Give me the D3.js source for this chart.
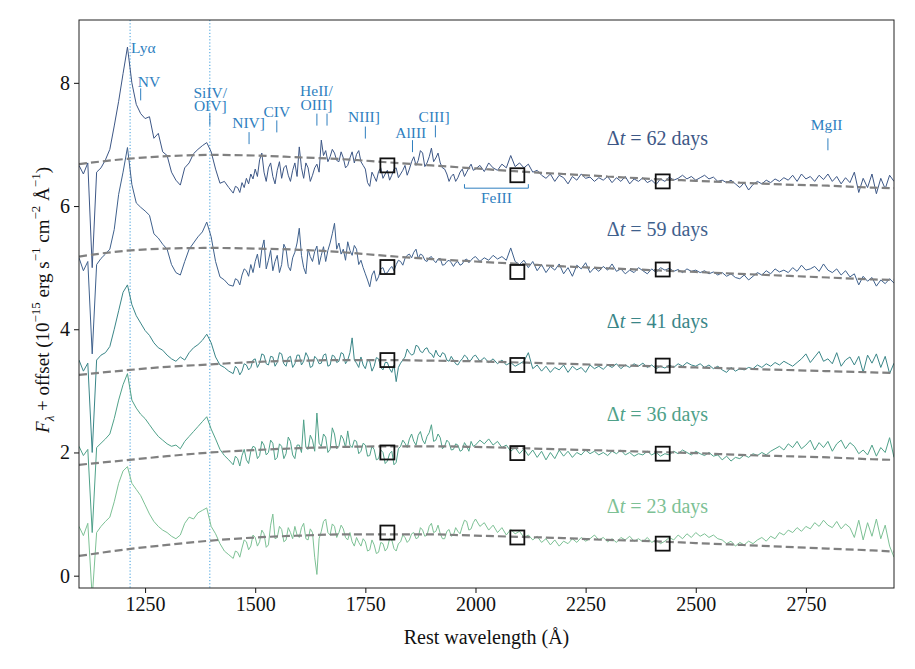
<!DOCTYPE html>
<html>
    <head>
        <title>UV spectra</title>
        <meta charset="UTF-8" />
        <script src="https://cdn.jsdelivr.net/npm/d3@7/dist/d3.min.js"></script>
        <style>
            body { margin: 0; background: #fff; }
            svg text { font-family: "Liberation Serif", "Times New Roman", serif; }
        </style>
    </head>
    <body>
        <svg id="chart" width="915" height="669"></svg>
        <script>
            // rest wavelength grid of the spectra (Angstrom); finer where the spectra are noisiest
            var wave = [
                1100,1110,1120,1130,1140,1150,1160,1170,1180,1190,
                1200,1210,1220,1230,1240,1250,1260,1270,1280,1290,
                1300,1310,1320,1330,1340,1350,1360,1370,1380,1390,
                1400,1410,1420,1430,1440,
                1450,1455,1460,1465,1470,1475,1480,1485,1490,1495,
                1500,1505,1510,1515,1520,1525,1530,1535,1540,1545,
                1550,1555,1560,1565,1570,1575,1580,1585,1590,1595,
                1600,1605,1610,1615,1620,1625,1630,1635,1640,1645,
                1650,1655,1660,1665,1670,1675,1680,1685,1690,1695,
                1700,1705,1710,1715,1720,1725,1730,1735,1740,1745,
                1750,1755,1760,1765,1770,1775,1780,1785,1790,1795,
                1800,1805,1810,1815,1820,1825,1830,1835,1840,1845,
                1850,1855,1860,1865,1870,1875,1880,1885,1890,1895,
                1900,1905,1910,1915,1920,1925,1930,1935,1940,1945,
                1950,1955,1960,1965,1970,1975,1980,1985,1990,1995,
                2000,2010,2020,2030,2040,2050,2060,2070,2080,2090,
                2100,2110,2120,2130,2140,2150,2160,2170,2180,2190,
                2200,2210,2220,2230,2240,2250,2260,2270,2280,2290,
                2300,2310,2320,2330,2340,2350,2360,2370,2380,2390,
                2400,2410,2420,2430,2440,2450,2460,2470,2480,2490,
                2500,2510,2520,2530,2540,2550,2560,2570,2580,2590,
                2600,2610,2620,2630,2640,2650,2660,2670,2680,2690,
                2700,2710,2720,2730,2740,2750,2760,2770,2780,2790,
                2800,2810,2820,2830,2840,2850,2860,2870,2880,2890,
                2900,2910,2920,2930,2940,2950
            ]

            var flux62 = [
                6.66,6.52,6.70,5.00,6.55,6.62,6.75,6.92,7.30,7.70,
                8.15,8.58,8.00,7.65,7.50,7.42,7.45,7.10,7.18,6.88,
                6.82,6.55,6.42,6.34,6.62,6.70,6.85,6.92,6.98,7.03,
                6.88,6.60,6.37,6.40,6.30,
                6.21,6.32,6.30,6.22,6.38,6.30,6.45,6.36,6.52,6.44,
                6.60,6.48,6.75,6.86,6.55,6.40,6.62,6.70,6.48,6.36,
                6.58,6.72,6.45,6.62,6.66,6.50,6.40,6.58,6.70,6.48,
                6.96,6.62,6.45,6.70,6.62,6.40,6.50,6.62,6.68,6.55,
                7.07,6.82,6.90,6.72,6.80,6.92,6.86,6.74,6.72,6.88,
                6.78,6.62,6.66,6.78,6.88,6.70,6.84,6.90,6.72,6.66,
                6.60,6.38,6.32,6.55,6.48,6.40,6.56,6.62,6.45,6.52,
                6.58,6.42,6.50,6.60,6.62,6.46,6.52,6.58,6.66,6.50,
                6.60,6.72,6.80,6.66,6.74,6.90,6.86,6.64,6.70,6.80,
                6.94,6.72,6.78,6.86,6.70,6.62,6.60,6.52,6.40,6.48,
                6.52,6.40,6.46,6.55,6.60,6.48,6.55,6.62,6.68,6.58,
                6.60,6.66,6.56,6.70,6.62,6.58,6.68,6.62,6.82,6.64,
                6.70,6.62,6.68,6.55,6.58,6.50,6.45,6.52,6.40,6.50,
                6.46,6.36,6.48,6.42,6.52,6.45,6.47,6.40,6.46,6.42,
                6.48,6.38,6.46,6.40,6.48,6.36,6.44,6.40,6.46,6.38,
                6.42,6.35,6.44,6.40,6.47,6.42,6.45,6.50,6.44,6.48,
                6.42,6.46,6.50,6.44,6.47,6.40,6.42,6.38,6.42,6.36,
                6.30,6.38,6.26,6.35,6.40,6.36,6.42,6.38,6.44,6.40,
                6.46,6.42,6.50,6.40,6.52,6.44,6.48,6.40,6.50,6.43,
                6.52,6.40,6.48,6.36,6.46,6.38,6.55,6.22,6.45,6.30,
                6.52,6.20,6.45,6.28,6.50,6.40
            ]

            var flux59 = [
                5.16,4.95,5.10,3.60,5.05,5.15,5.22,5.30,5.62,6.19,
                6.55,6.95,6.35,6.05,5.98,5.92,5.85,5.55,5.48,5.38,
                5.30,5.05,4.92,4.88,5.10,5.30,5.40,5.50,5.58,5.74,
                5.50,5.10,4.85,4.80,4.72,
                4.70,4.82,4.80,4.72,4.88,4.98,4.95,4.86,5.05,4.92,
                5.10,5.22,5.00,5.30,5.45,4.98,5.12,5.28,4.95,5.10,
                5.20,4.92,5.05,5.38,5.30,5.02,4.95,5.16,5.25,5.40,
                5.64,5.20,5.00,4.90,5.30,5.18,5.10,5.26,5.35,5.05,
                5.20,5.34,5.10,5.28,5.40,5.55,5.72,5.30,5.40,5.22,
                5.30,5.12,5.42,5.28,5.20,5.36,5.30,5.05,5.12,5.00,
                4.90,4.80,4.69,4.88,4.95,4.78,4.85,4.98,5.00,4.90,
                4.92,4.98,5.02,4.95,5.05,5.12,5.10,5.04,5.15,5.20,
                5.22,5.16,5.25,5.30,5.15,5.22,5.20,5.12,5.10,5.16,
                5.18,5.12,5.08,5.14,5.15,5.04,5.05,5.10,5.12,5.08,
                5.02,5.08,5.10,5.04,5.06,5.12,5.14,5.08,5.12,5.16,
                5.18,5.10,5.16,5.12,5.20,5.14,5.18,5.12,5.32,5.10,
                5.05,5.12,5.00,5.10,4.95,5.05,4.92,5.02,4.96,5.06,
                4.90,5.00,4.86,5.04,4.98,5.08,4.92,5.00,4.94,5.02,
                4.96,5.06,4.94,4.98,4.90,4.96,4.92,5.00,4.95,4.90,
                4.98,4.92,5.00,4.96,4.99,4.94,4.97,4.92,4.98,4.94,
                4.96,4.92,4.95,4.90,4.93,4.88,4.92,4.86,4.90,4.84,
                4.82,4.88,4.80,4.86,4.92,4.88,4.95,4.90,4.98,4.93,
                4.96,4.92,5.00,4.94,5.04,4.96,4.98,5.02,4.94,5.06,
                4.96,4.92,4.98,4.88,4.95,4.85,4.90,4.72,4.86,4.78,
                4.84,4.70,4.80,4.74,4.82,4.75
            ]

            var flux41 = [
                3.50,3.32,3.45,2.00,3.50,3.58,3.62,3.72,4.00,4.30,
                4.60,4.72,4.40,4.22,4.10,3.98,3.90,3.78,3.70,3.66,
                3.58,3.52,3.48,3.55,3.50,3.62,3.70,3.75,3.82,3.92,
                3.78,3.55,3.42,3.38,3.32,
                3.28,3.40,3.36,3.26,3.32,3.44,3.42,3.34,3.38,3.50,
                3.52,3.38,3.45,3.60,3.58,3.44,3.42,3.56,3.55,3.40,
                3.46,3.62,3.60,3.44,3.40,3.54,3.56,3.38,3.44,3.58,
                3.58,3.42,3.48,3.62,3.55,3.38,3.40,3.56,3.52,3.44,
                3.45,3.58,3.60,3.40,3.42,3.58,3.56,3.46,3.48,3.62,
                3.60,3.44,3.50,3.62,3.86,3.50,3.45,3.38,3.55,3.42,
                3.36,3.50,3.48,3.32,3.40,3.54,3.52,3.38,3.34,3.46,
                3.46,3.36,3.30,3.42,3.15,3.38,3.45,3.50,3.55,3.68,
                3.62,3.58,3.60,3.74,3.72,3.64,3.62,3.68,3.70,3.62,
                3.60,3.54,3.66,3.58,3.55,3.62,3.60,3.50,3.48,3.56,
                3.50,3.44,3.42,3.48,3.52,3.58,3.55,3.48,3.50,3.56,
                3.58,3.48,3.54,3.46,3.52,3.44,3.50,3.42,3.46,3.40,
                3.44,3.48,3.62,3.36,3.42,3.32,3.40,3.30,3.38,3.34,
                3.42,3.30,3.40,3.34,3.38,3.30,3.42,3.36,3.40,3.35,
                3.42,3.38,3.44,3.36,3.42,3.38,3.44,3.40,3.45,3.38,
                3.42,3.36,3.40,3.37,3.42,3.38,3.44,3.40,3.46,3.42,
                3.40,3.44,3.38,3.42,3.36,3.40,3.34,3.30,3.38,3.32,
                3.36,3.34,3.38,3.36,3.42,3.38,3.44,3.40,3.46,3.42,
                3.48,3.44,3.40,3.46,3.52,3.60,3.46,3.55,3.64,3.48,
                3.52,3.44,3.62,3.40,3.50,3.55,3.42,3.56,3.30,3.58,
                3.45,3.60,3.38,3.56,3.28,3.45
            ]

            var flux36 = [
                2.10,1.95,2.05,0.70,2.08,2.15,2.22,2.30,2.55,2.85,
                3.10,3.28,2.85,2.72,2.62,2.55,2.45,2.35,2.26,2.20,
                2.14,2.10,2.12,2.06,2.18,2.26,2.34,2.42,2.50,2.58,
                2.38,2.22,2.05,1.95,1.88,
                1.80,1.94,1.90,1.78,1.95,2.05,1.88,1.82,2.02,2.10,
                2.08,1.90,1.95,2.18,2.12,1.96,2.00,2.20,2.15,1.88,
                1.92,2.14,2.10,1.90,1.98,2.25,2.18,1.96,1.90,2.12,
                2.12,2.00,2.53,2.08,2.05,2.28,2.20,2.02,2.64,2.15,
                2.10,2.30,2.25,2.00,2.05,2.40,2.30,2.06,2.10,2.28,
                2.22,2.08,2.35,2.12,2.08,2.20,2.18,1.98,2.02,2.15,
                2.12,1.94,1.95,2.10,2.05,1.88,1.90,2.04,2.00,1.82,
                1.86,1.98,2.02,1.80,1.84,2.06,2.10,2.20,2.15,2.08,
                2.22,2.30,2.18,2.12,2.28,2.34,2.20,2.14,2.26,2.32,
                2.45,2.18,2.20,2.30,2.24,2.06,2.10,2.20,2.16,2.04,
                2.05,2.14,2.12,2.02,2.04,2.16,2.10,2.02,2.18,2.10,
                2.12,2.20,2.14,2.22,2.12,2.18,2.08,2.12,2.02,2.08,
                1.98,2.06,1.95,2.04,1.92,2.02,1.88,2.00,1.90,2.04,
                1.94,2.02,1.92,2.00,1.96,2.04,1.98,2.02,1.96,2.00,
                1.95,2.02,1.98,2.04,1.96,2.00,1.94,1.98,1.96,2.02,
                1.96,2.00,1.94,1.98,1.96,2.02,1.98,2.04,2.00,1.96,
                2.02,1.98,1.95,2.00,1.94,1.96,1.88,1.94,1.86,1.92,
                1.90,1.96,1.92,1.98,1.95,2.00,1.96,2.02,2.06,2.10,
                2.04,2.14,2.08,2.18,2.06,2.12,2.20,2.04,2.16,2.08,
                2.18,2.02,2.14,2.20,2.06,2.16,2.10,1.98,2.04,1.96,
                2.12,1.94,2.08,2.00,2.24,1.92
            ]

            var flux23 = [
                0.80,0.65,0.85,-0.35,0.70,0.80,0.88,0.95,1.20,1.50,
                1.70,1.77,1.50,1.40,1.30,1.15,1.00,0.88,0.80,0.74,
                0.70,0.64,0.60,0.66,0.85,0.95,0.92,1.02,1.06,1.10,
                0.80,0.68,0.52,0.40,0.34,
                0.28,0.40,0.38,0.30,0.45,0.58,0.55,0.42,0.48,0.66,
                0.62,0.48,0.55,0.74,0.68,0.46,0.50,0.82,1.00,0.60,
                0.62,0.80,0.75,0.55,0.58,0.78,0.70,0.60,0.80,0.66,
                0.62,0.78,0.85,0.60,0.58,0.76,0.70,0.30,0.02,0.60,
                0.72,0.88,0.92,0.70,0.66,0.84,0.80,0.62,0.70,0.82,
                0.76,0.62,0.58,0.70,0.55,0.48,0.62,0.54,0.48,0.60,
                0.55,0.40,0.42,0.58,0.50,0.36,0.38,0.54,0.52,0.40,
                0.45,0.60,0.58,0.44,0.40,0.52,0.55,0.66,0.62,0.54,
                0.58,0.68,0.70,0.60,0.62,0.78,0.74,0.64,0.66,0.80,
                0.85,0.70,0.72,0.82,0.68,0.60,0.60,0.72,0.75,0.64,
                0.66,0.78,0.72,0.68,0.80,0.90,0.88,0.74,0.76,0.86,
                0.92,0.80,0.86,0.74,0.82,0.70,0.78,0.66,0.75,0.68,
                0.72,0.62,0.66,0.58,0.64,0.54,0.60,0.50,0.58,0.48,
                0.56,0.52,0.60,0.54,0.62,0.56,0.60,0.66,0.58,0.62,
                0.55,0.60,0.54,0.62,0.58,0.64,0.56,0.60,0.55,0.62,
                0.54,0.58,0.52,0.56,0.62,0.58,0.66,0.60,0.68,0.62,
                0.70,0.64,0.68,0.62,0.66,0.60,0.58,0.52,0.56,0.48,
                0.54,0.50,0.56,0.52,0.58,0.62,0.56,0.64,0.60,0.70,
                0.66,0.74,0.70,0.78,0.72,0.80,0.76,0.86,0.80,0.90,
                0.82,0.78,0.88,0.76,0.84,0.78,0.62,0.90,0.58,0.86,
                0.64,0.92,0.60,0.82,0.48,0.30
            ]

            // smooth continuum fits (dashed)
            var contWave = [1100,1200,1300,1400,1500,1600,1700,1800,1900,2000,2100,2200,2300,2400,2500,2600,2700,2800,2900,2950]
            var cont62 = [6.68,6.76,6.81,6.83,6.82,6.79,6.76,6.71,6.66,6.61,6.56,6.52,6.48,6.44,6.41,6.38,6.35,6.33,6.30,6.29]
            var cont59 = [5.18,5.27,5.31,5.32,5.31,5.29,5.25,5.19,5.14,5.10,5.06,5.02,4.99,4.96,4.93,4.90,4.87,4.84,4.81,4.80]
            var cont41 = [3.26,3.33,3.39,3.43,3.47,3.49,3.50,3.50,3.49,3.48,3.46,3.44,3.42,3.40,3.38,3.36,3.34,3.32,3.30,3.29]
            var cont36 = [1.80,1.87,1.94,2.00,2.04,2.07,2.09,2.10,2.10,2.09,2.07,2.05,2.03,2.01,1.99,1.96,1.94,1.92,1.89,1.88]
            var cont23 = [0.32,0.42,0.50,0.57,0.62,0.65,0.67,0.67,0.67,0.65,0.63,0.61,0.58,0.56,0.53,0.50,0.47,0.44,0.41,0.39]

            // photometry (open squares)
            var photWave = [1800, 2095, 2425]
            var phot62 = [6.66, 6.50, 6.40]
            var phot59 = [5.01, 4.93, 4.97]
            var phot41 = [3.50, 3.42, 3.41]
            var phot36 = [2.00, 1.99, 1.98]
            var phot23 = [0.70, 0.62, 0.52]

            var epochs = ["62", "59", "41", "36", "23"]
            var xTicks = [1250, 1500, 1750, 2000, 2250, 2500, 2750]
            var yTicks = [0, 2, 4, 6, 8]

            // emission line ids
            var lineNames = ["Lyα", "NV", "SiIV/|OIV]", "NIV]", "CIV", "HeII/|OIII]", "NIII]", "AlIII", "CIII]", "MgII"]
            var lineWaves = [[1216], [1240], [1397], [1486], [1549], [1640, 1663], [1750], [1857], [1909], [2800]]
            var feRange = [1975, 2120]

            var colors = ["#3d5786", "#3f618d", "#3a8688", "#4fa189", "#7dc195"]
            var spectra = [flux62, flux59, flux41, flux36, flux23]
            var conts = [cont62, cont59, cont41, cont36, cont23]
            var phots = [phot62, phot59, phot41, phot36, phot23]

            var svg = d3.select("#chart")
            var plotL = 79, plotR = 894, plotT = 20, plotB = 588

            var xScale = d3.scaleLinear().domain([1100, 2950]).range([plotL, plotR])
            var yScale = d3.scaleLinear().domain([-0.2, 9.02]).range([plotB, plotT])

            svg.append("defs").append("clipPath").attr("id", "plotClip")
                .append("rect")
                .attr("x", plotL).attr("y", plotT)
                .attr("width", plotR - plotL).attr("height", plotB - plotT)

            var plot = svg.append("g").attr("clip-path", "url(#plotClip)")

            // rest wavelengths of Lya and SiIV
            plot.selectAll("line.ref")
                .data([1216, 1397])
                .enter()
                .append("line")
                .attr("x1", d => xScale(d)).attr("x2", d => xScale(d))
                .attr("y1", plotT).attr("y2", plotB)
                .attr("stroke", "#3d9ddc")
                .attr("stroke-width", 1)
                .attr("stroke-dasharray", "1.2,2")

            var specLine = d3.line()
                .x((d, i) => xScale(wave[i]))
                .y(d => yScale(d))

            for (var k = spectra.length - 1; k >= 0; --k) {
                plot.append("path")
                    .attr("d", specLine(spectra[k]))
                    .attr("fill", "none")
                    .attr("stroke", colors[k])
                    .attr("stroke-width", 1)
                    .attr("stroke-linejoin", "round")
            }

            var contLine = d3.line()
                .x((d, i) => xScale(contWave[i]))
                .y(d => yScale(d))
                .curve(d3.curveMonotoneX)

            conts.forEach(function (c) {
                plot.append("path")
                    .attr("d", contLine(c))
                    .attr("fill", "none")
                    .attr("stroke", "#808080")
                    .attr("stroke-width", 2.2)
                    .attr("stroke-dasharray", "8,4")
            })

            phots.forEach(function (p) {
                plot.selectAll(null)
                    .data(p)
                    .enter()
                    .append("rect")
                    .attr("x", (d, i) => xScale(photWave[i]) - 7)
                    .attr("y", d => yScale(d) - 7)
                    .attr("width", 14).attr("height", 14)
                    .attr("fill", "none")
                    .attr("stroke", "#111")
                    .attr("stroke-width", 1.8)
            })

            // epoch labels
            var epochY = [6.99, 5.51, 4.02, 2.51, 1.02]
            epochs.forEach(function (e, k) {
                var t = svg.append("text")
                    .attr("x", xScale(2298)).attr("y", yScale(epochY[k]))
                    .attr("fill", colors[k])
                    .style("font-size", "20px")
                t.append("tspan").text("Δ")
                t.append("tspan").style("font-style", "italic").text("t")
                t.append("tspan").text(" = " + e + " days")
            })

            // line identifications
            var annColor = "#2f7fbf"
            var textWave = [1216, 1259, 1398, 1485, 1549, 1639, 1747, 1853, 1906, 2797]
            var textY = [8.49, 7.94, 7.76, 7.26, 7.44, 7.78, 7.36, 7.11, 7.36, 7.23]
            var tickTop = [null, 7.91, 7.50, 7.20, 7.39, 7.50, 7.29, 7.07, 7.31, 7.10]
            var ann = svg.append("g").style("font-size", "15.5px").attr("fill", annColor)
            lineNames.forEach(function (name, k) {
                var parts = name.split("|")
                parts.forEach(function (p, j) {
                    ann.append("text")
                        .attr("x", xScale(textWave[k]) + (k === 0 ? 1 : 0))
                        .attr("y", yScale(textY[k]) + j * 13.5)
                        .attr("text-anchor", k === 0 ? "start" : "middle")
                        .text(p)
                })
                if (tickTop[k] !== null) {
                    lineWaves[k].forEach(function (w) {
                        ann.append("line")
                            .attr("x1", xScale(w)).attr("x2", xScale(w))
                            .attr("y1", yScale(tickTop[k])).attr("y2", yScale(tickTop[k]) + 12)
                            .attr("stroke", annColor)
                            .attr("stroke-width", 1)
                    })
                }
            })
            ann.append("path")
                .attr("d", "M" + xScale(feRange[0]) + "," + (yScale(6.29) - 4) +
                    "V" + yScale(6.29) + "H" + xScale(feRange[1]) + "V" + (yScale(6.29) - 4))
                .attr("fill", "none")
                .attr("stroke", annColor)
                .attr("stroke-width", 1)
            ann.append("text")
                .attr("x", xScale((feRange[0] + feRange[1]) / 2))
                .attr("y", yScale(6.05))
                .attr("text-anchor", "middle")
                .text("FeIII")

            // axes
            var xAxis = d3.axisBottom(xScale).tickValues(xTicks).tickSize(5).tickPadding(4).tickFormat(d3.format("d"))
            var gx = svg.append("g").attr("transform", "translate(0," + plotB + ")").call(xAxis)
            var yAxis = d3.axisLeft(yScale).tickValues(yTicks).tickSize(5).tickPadding(4).tickFormat(d3.format("d"))
            var gy = svg.append("g").attr("transform", "translate(" + plotL + ",0)").call(yAxis)
            ;[gx, gy].forEach(function (g) {
                g.select(".domain").remove()
                g.selectAll("text").style("font-size", "20px").attr("fill", "#111")
                g.selectAll("line").attr("stroke", "#111")
            })

            svg.append("rect")
                .attr("x", plotL).attr("y", plotT)
                .attr("width", plotR - plotL).attr("height", plotB - plotT)
                .attr("fill", "none")
                .attr("stroke", "#222")
                .attr("stroke-width", 1)

            svg.append("text")
                .attr("x", (plotL + plotR) / 2).attr("y", 644)
                .attr("text-anchor", "middle")
                .style("font-size", "20px")
                .attr("fill", "#111")
                .text("Rest wavelength (Å)")

            var yl = svg.append("text")
                .attr("transform", "translate(49,300) rotate(-90)")
                .attr("text-anchor", "middle")
                .style("font-size", "19px")
                .attr("fill", "#111")
            yl.append("tspan").style("font-style", "italic").text("F")
            yl.append("tspan").attr("dy", 5).style("font-size", "13px").style("font-style", "italic").text("λ")
            yl.append("tspan").attr("dy", -5).text(" + offset (10")
            yl.append("tspan").attr("dy", -9).style("font-size", "13px").text("−15")
            yl.append("tspan").attr("dy", 9).text(" erg s")
            yl.append("tspan").attr("dy", -9).style("font-size", "13px").text("−1")
            yl.append("tspan").attr("dy", 9).text(" cm")
            yl.append("tspan").attr("dy", -9).style("font-size", "13px").text("−2")
            yl.append("tspan").attr("dy", 9).text(" Å")
            yl.append("tspan").attr("dy", -9).style("font-size", "13px").text("−1")
            yl.append("tspan").attr("dy", 9).text(")")
        </script>
    </body>
</html>
